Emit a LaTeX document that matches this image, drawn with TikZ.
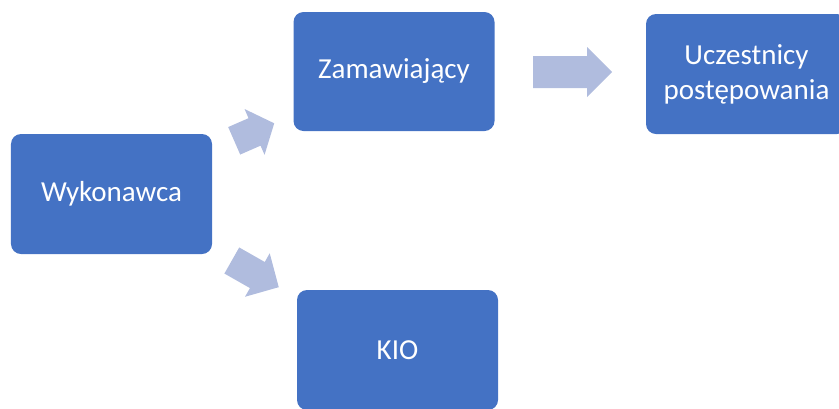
\documentclass[tikz,border=0pt]{standalone}
\usepackage{fontspec}
\setmainfont{Carlito}
\definecolor{boxblue}{RGB}{68,114,196}
\definecolor{arrowblue}{RGB}{176,188,222}
\tikzset{
  box/.style={fill=boxblue, draw=none, rounded corners=10bp, minimum width=201bp, minimum height=120bp,
    text=white, align=center, inner sep=0pt, font=\fontsize{29bp}{35bp}\selectfont},
  arrowfill/.style={fill=arrowblue, draw=none}
}
% #1 base point, #2 angle, #3 length, #4 half shaft, #5 half head, #6 head length
\newcommand\myblockarrow[6]{%
  \begin{scope}[shift={#1}, rotate=#2]
    \fill[arrowfill] (0,-#4) -- ({#3-#6},-#4) -- ({#3-#6},-#5) -- (#3,0) -- ({#3-#6},#5) -- ({#3-#6},#4) -- (0,#4) -- cycle;
  \end{scope}}
\begin{document}
\begin{tikzpicture}[x=1bp,y=-1bp]
\useasboundingbox (0,0) rectangle (839,408);
\clip (0,0) rectangle (839,408);
\node[box] (wyk) at (111.5,194) {Wykonawca};
\node[box, minimum height=119bp] (zam) at (394,71.5) {Zamawiający};
\node[box] (ucz) at (746.5,74) {Uczestnicy\\postępowania};
\node[box] (kio) at (397.5,350) {KIO};
\myblockarrow{(234.2,140.8)}{23.6}{43.7}{15}{25}{21.5}
\myblockarrow{(231.8,260.5)}{-29.6}{54}{15}{25}{24.6}
\myblockarrow{(533,72)}{0}{79}{16}{25}{25}
\end{tikzpicture}
\end{document}
